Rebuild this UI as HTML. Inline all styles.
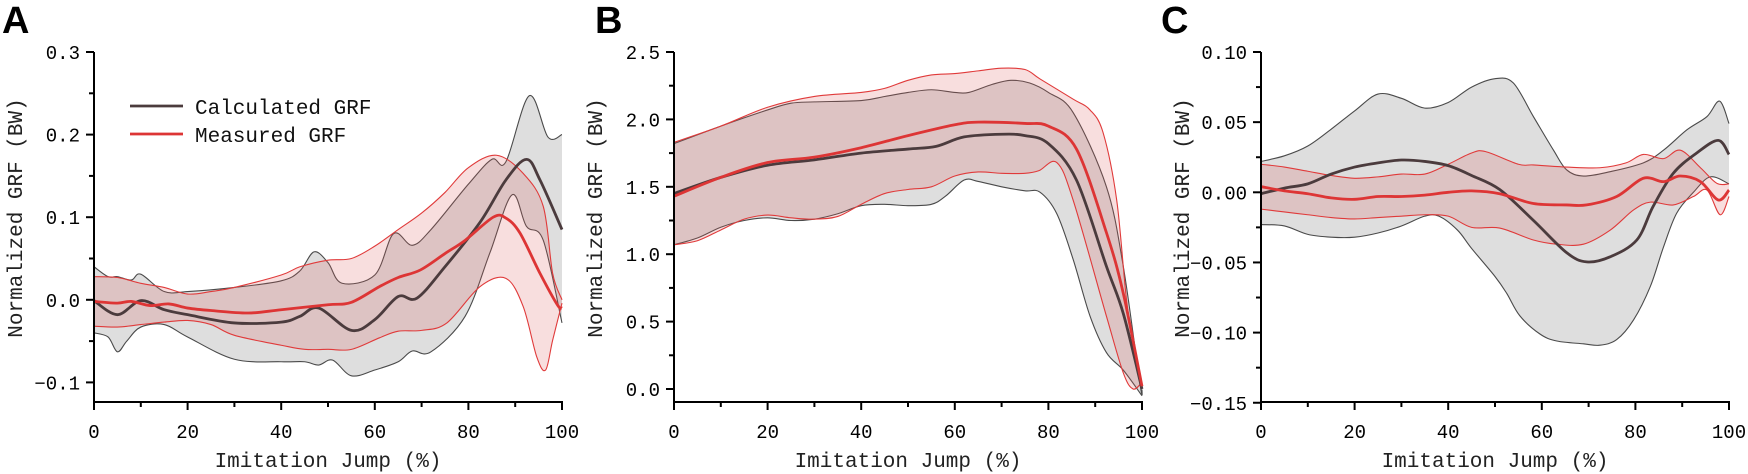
<!DOCTYPE html>
<html><head><meta charset="utf-8">
<style>
html,body{margin:0;padding:0;background:#fff;}
svg{display:block;}
text{font-family:"Liberation Mono","Noto Serif CJK SC",monospace;}
</style></head>
<body>
<svg id="fig" width="1748" height="474" viewBox="0 0 1748 474" xmlns="http://www.w3.org/2000/svg"></svg>
<script>
// ---- Panel A data: [percent, value] ----
const aCalcMean=[[0,-0.001],[5,-0.018],[10,-0.001],[15,-0.012],[20,-0.018],[30,-0.028],[40,-0.027],[44,-0.02],[48,-0.01],[55,-0.037],[60,-0.024],[65,0.004],[69,0.002],[75,0.04],[82.5,0.094],[88,0.145],[92.4,0.17],[95.3,0.145],[100,0.085]];
const aCalcUp=[[0,0.04],[3,0.028],[5,0.028],[8,0.024],[10,0.031],[15,0.01],[20,0.01],[30,0.015],[40,0.023],[44,0.035],[47,0.058],[50,0.045],[53,0.02],[60,0.03],[64,0.08],[68,0.066],[72,0.085],[80,0.14],[85,0.17],[88,0.167],[93,0.247],[97,0.197],[100,0.2]];
const aCalcLo=[[0,-0.04],[3,-0.045],[5,-0.063],[7,-0.05],[10,-0.033],[15,-0.03],[20,-0.045],[30,-0.072],[40,-0.075],[45,-0.075],[48,-0.079],[51,-0.073],[55,-0.092],[60,-0.085],[65,-0.075],[68,-0.062],[72,-0.063],[79.3,-0.02],[84.6,0.057],[89.3,0.127],[92.4,0.089],[96,0.072],[100,-0.028]];
const aMeasMean=[[0,-0.002],[5,-0.004],[8,-0.002],[12,-0.007],[16,-0.005],[20,-0.01],[25,-0.013],[33,-0.016],[40,-0.012],[50,-0.006],[55,-0.003],[61,0.016],[65,0.027],[69.7,0.036],[75,0.056],[79.3,0.072],[85.3,0.1],[88,0.099],[91,0.081],[95.3,0.032],[99,-0.006],[100,-0.01]];
const aMeasUp=[[0,0.028],[5,0.027],[10,0.02],[15,0.015],[20,0.007],[25,0.01],[30,0.015],[40,0.03],[44,0.04],[50,0.048],[55,0.05],[60,0.065],[65,0.085],[70,0.105],[75,0.13],[80,0.16],[86,0.175],[91.7,0.153],[96,0.113],[98,0.032],[100,0]];
const aMeasLo=[[0,-0.032],[5,-0.033],[10,-0.03],[15,-0.027],[20,-0.025],[25,-0.03],[30,-0.043],[40,-0.055],[45,-0.06],[50,-0.06],[55,-0.06],[61,-0.046],[65,-0.038],[70,-0.037],[75.4,-0.028],[82.5,0.016],[88,0.026],[91.7,-0.008],[94.6,-0.069],[96.5,-0.085],[98,-0.049],[100,-0.004]];
const aYTicks=[-0.1,0,0.1,0.2,0.3];
const aYLabels=["\u22120.1","0.0","0.1","0.2","0.3"];

// ---- Panel B data ----
const bCalcMean=[[0,1.45],[10,1.57],[20,1.66],[30,1.70],[40,1.75],[50,1.78],[56,1.80],[62,1.87],[70,1.89],[75,1.88],[80,1.82],[86,1.55],[92.4,0.91],[96,0.56],[100,0]];
const bCalcUp=[[0,1.82],[10,1.95],[20,2.07],[25,2.12],[30,2.13],[40,2.14],[45,2.17],[50,2.2],[55,2.22],[60,2.2],[63,2.2],[68,2.26],[72,2.29],[76,2.27],[80,2.2],[85.3,2.05],[92.4,1.5],[96,0.91],[99.6,0.03],[100,0]];
const bCalcLo=[[0,1.07],[5,1.12],[10,1.2],[15,1.25],[20,1.27],[25,1.25],[30,1.26],[35,1.3],[40,1.36],[45,1.37],[50,1.36],[55,1.37],[58,1.43],[62,1.55],[65,1.54],[70,1.5],[75,1.47],[78.2,1.46],[81.8,1.30],[85.3,0.96],[88.9,0.54],[92.4,0.27],[96,0.14],[100,-0.05]];
const bMeasMean=[[0,1.43],[10,1.57],[20,1.68],[30,1.72],[40,1.79],[50,1.88],[60,1.96],[65,1.98],[75,1.97],[80,1.95],[86,1.78],[92.4,1.16],[96,0.71],[100,0.02]];
const bMeasUp=[[0,1.83],[10,1.95],[20,2.09],[30,2.17],[40,2.2],[45,2.23],[50,2.29],[55,2.33],[60,2.34],[65,2.36],[70,2.38],[75,2.37],[78.2,2.30],[85.3,2.15],[88.9,2.07],[91.7,1.90],[94.6,1.40],[96.7,0.66],[98.9,0.16],[100,0.05]];
const bMeasLo=[[0,1.07],[5,1.1],[10,1.18],[15,1.26],[20,1.29],[25,1.27],[30,1.26],[35,1.28],[40,1.37],[45,1.45],[50,1.48],[55,1.5],[60,1.58],[65,1.61],[70,1.6],[75,1.6],[78,1.62],[81.8,1.68],[85.3,1.40],[92.4,0.54],[96,0.12],[98.1,0.0],[100,0.05]];
const bYTicks=[0,0.5,1.0,1.5,2.0,2.5];
const bYLabels=["0.0","0.5","1.0","1.5","2.0","2.5"];

// ---- Panel C data ----
const cCalcMean=[[0,-0.001],[5,0.003],[10,0.006],[15,0.013],[20,0.018],[25,0.021],[30,0.023],[35,0.022],[40,0.019],[45,0.012],[51,0.002],[58.2,-0.02],[65.3,-0.043],[69.6,-0.0496],[74.6,-0.046],[80.3,-0.034],[83.8,-0.01],[88.1,0.0136],[93.1,0.028],[97.7,0.037],[100,0.027]];
const cCalcUp=[[0,0.022],[5,0.026],[10,0.033],[15,0.045],[20,0.058],[25,0.07],[30,0.067],[35,0.06],[40,0.064],[45,0.075],[50,0.081],[53.9,0.078],[58.2,0.054],[62.5,0.03],[65.3,0.016],[68.9,0.0116],[74.6,0.0147],[81.7,0.021],[86,0.030],[91,0.0445],[95.3,0.054],[98,0.065],[100,0.049]];
const cCalcLo=[[0,-0.023],[5,-0.024],[10,-0.03],[15,-0.032],[20,-0.032],[25,-0.029],[30,-0.024],[35,-0.017],[38,-0.017],[42,-0.027],[45,-0.04],[50,-0.06],[52.5,-0.072],[55.3,-0.088],[59.6,-0.101],[63.2,-0.106],[68.9,-0.108],[72.4,-0.109],[76,-0.105],[79.6,-0.091],[83.2,-0.067],[86,-0.039],[88.8,-0.015],[92.4,0],[96,0.011],[100,0.006]];
const cMeasMean=[[0,0.004],[5,0.001],[10,-0.001],[15,-0.004],[20,-0.005],[25,-0.003],[30,-0.003],[35,-0.002],[40,0],[45,0.001],[51,-0.001],[58.2,-0.008],[65.3,-0.009],[69.6,-0.009],[76,-0.003],[81.7,0.010],[86,0.0076],[89.6,0.0116],[93.9,0.0076],[97.7,-0.0055],[100,0.0016]];
const cMeasUp=[[0,0.02],[5,0.018],[10,0.015],[15,0.012],[20,0.01],[25,0.011],[30,0.013],[35,0.013],[40,0.02],[45,0.028],[48,0.029],[55,0.02],[58.2,0.0195],[65.3,0.018],[72.4,0.0175],[78,0.021],[81.7,0.027],[86,0.024],[89.6,0.030],[93.9,0.0175],[97.4,0.0064],[100,0.006]];
const cMeasLo=[[0,-0.012],[5,-0.014],[10,-0.016],[15,-0.018],[20,-0.019],[25,-0.018],[30,-0.017],[35,-0.016],[40,-0.017],[45,-0.025],[51,-0.0255],[58.2,-0.034],[63.2,-0.037],[68.9,-0.037],[74.6,-0.027],[79.6,-0.0126],[83.2,-0.007],[88.1,-0.009],[92.4,-0.003],[95.3,0.0016],[98.1,-0.016],[100,-0.003]];
const cYTicks=[-0.15,-0.10,-0.05,0,0.05,0.10];
const cYLabels=["\u22120.15","\u22120.10","\u22120.05","0.00","0.05","0.10"];

const xTicks=[0,20,40,60,80,100];
const xLabels=["0","20","40","60","80","100"];

const NS="http://www.w3.org/2000/svg";
const svg=document.getElementById('fig');
function mk(tag,attrs,parent){const e=document.createElementNS(NS,tag);for(const k in attrs)e.setAttribute(k,attrs[k]);(parent||svg).appendChild(e);return e;}

function smoothPath(pts){
  let d='M'+pts[0][0].toFixed(2)+','+pts[0][1].toFixed(2);
  for(let i=0;i<pts.length-1;i++){
    const p0=pts[Math.max(0,i-1)],p1=pts[i],p2=pts[i+1],p3=pts[Math.min(pts.length-1,i+2)];
    const c1x=p1[0]+(p2[0]-p0[0])/6,c1y=p1[1]+(p2[1]-p0[1])/6;
    const c2x=p2[0]-(p3[0]-p1[0])/6,c2y=p2[1]-(p3[1]-p1[1])/6;
    d+=' C'+c1x.toFixed(2)+','+c1y.toFixed(2)+' '+c2x.toFixed(2)+','+c2y.toFixed(2)+' '+p2[0].toFixed(2)+','+p2[1].toFixed(2);
  }
  return d;
}

function panel(cfg){
  const g=mk('g',{});
  
  
  const x0=cfg.x0,x1=cfg.x0+468,yTop=52,yBot=402;
  const xs=v=>x0+(v/100)*(x1-x0);
  const ys=v=>cfg.yPx0+(v-cfg.v0)*(cfg.yPx1-cfg.yPx0)/(cfg.v1-cfg.v0);
  const P=arr=>arr.map(p=>[xs(p[0]),ys(p[1])]);
  function band(up,lo,fill,stroke,nm){
    const u=P(up),l=P(lo).reverse();
    const du=smoothPath(u),dl=smoothPath(l).replace(/^M/,'L');
    const b=mk('path',{d:du+' '+dl+' Z',fill:fill,stroke:'none'},g);
    
    
    const s1=mk('path',{d:du,fill:'none',stroke:stroke,'stroke-width':1.1},g);
    
    
    const s2=mk('path',{d:smoothPath(P(lo)),fill:'none',stroke:stroke,'stroke-width':1.1},g);
    
    
  }
  band(cfg.cu,cfg.cl,'rgba(200,200,200,0.6)','#4a4a4a','calculated-sd');
  band(cfg.mu,cfg.ml,'rgba(222,90,90,0.2)','#e03a3a','measured-sd');
  const lc=mk('path',{d:smoothPath(P(cfg.cm)),fill:'none',stroke:'#4b3b3d','stroke-width':2.8},g);
  
  
  const lm=mk('path',{d:smoothPath(P(cfg.mm)),fill:'none',stroke:'#dd3535','stroke-width':2.8},g);
  
  
  const ax=mk('path',{d:`M${x0},${yTop} L${x0},${yBot} L${x1+1},${yBot}`,fill:'none',stroke:'#000','stroke-width':2},g);
  
  
  xTicks.forEach((t,i)=>{
    const x=xs(t);
    mk('line',{x1:x,y1:yBot,x2:x,y2:yBot+8,stroke:'#000','stroke-width':2},g);
    if(i<xTicks.length-1){const xm=xs(t+10);mk('line',{x1:xm,y1:yBot,x2:xm,y2:yBot+5,stroke:'#000','stroke-width':2},g);}
    const tx=mk('text',{x:x,y:438,'text-anchor':'middle','font-size':19,fill:'#000'},g);
    tx.textContent=xLabels[i];
    
    
  });
  cfg.yt.forEach((t,i)=>{
    const y=ys(t);
    mk('line',{x1:x0-8,y1:y,x2:x0,y2:y,stroke:'#000','stroke-width':2},g);
    if(i<cfg.yt.length-1){const ym=ys((t+cfg.yt[i+1])/2);mk('line',{x1:x0-5,y1:ym,x2:x0,y2:ym,stroke:'#000','stroke-width':2},g);}
    const tx=mk('text',{x:x0-14,y:y+7,'text-anchor':'end','font-size':19,fill:'#000'},g);
    tx.textContent=cfg.yl[i];
    
    
  });
  const xt=mk('text',{x:(x0+x1)/2,y:467,'text-anchor':'middle','font-size':21,fill:'#222'},g);
  xt.textContent='Imitation Jump (%)';
  
  
  const yx=cfg.x0-72;
  const yt=mk('text',{x:yx,y:218,'text-anchor':'middle','font-size':21,fill:'#222',transform:`rotate(-90 ${yx} 218)`},g);
  yt.textContent='Normalized GRF (BW)';
  
  
  const pl=mk('text',{x:cfg.lx,y:33,'font-size':38,'font-weight':'bold',fill:'#000',style:'font-family:"Liberation Sans",sans-serif'},g);
  pl.textContent=cfg.label;
  
  
}

panel({name:'panel-a',label:'A',lx:2,x0:94,v0:0,v1:0.1,yPx0:299.8,yPx1:217.2,yt:aYTicks,yl:aYLabels,cm:aCalcMean,cu:aCalcUp,cl:aCalcLo,mm:aMeasMean,mu:aMeasUp,ml:aMeasLo});
panel({name:'panel-b',label:'B',lx:595,x0:674,v0:0,v1:2.5,yPx0:389,yPx1:52,yt:bYTicks,yl:bYLabels,cm:bCalcMean,cu:bCalcUp,cl:bCalcLo,mm:bMeasMean,mu:bMeasUp,ml:bMeasLo});
panel({name:'panel-c',label:'C',lx:1161,x0:1261,v0:0,v1:0.1,yPx0:192.3,yPx1:52,yt:cYTicks,yl:cYLabels,cm:cCalcMean,cu:cCalcUp,cl:cCalcLo,mm:cMeasMean,mu:cMeasUp,ml:cMeasLo});

const lg=mk('g',{});


mk('line',{x1:130,y1:106,x2:183,y2:106,stroke:'#4b3b3d','stroke-width':2.8},lg);
mk('line',{x1:130,y1:134,x2:183,y2:134,stroke:'#dd3535','stroke-width':2.8},lg);
const l1=mk('text',{x:195,y:114,'font-size':21,fill:'#111'},lg);
l1.textContent='Calculated GRF';


const l2=mk('text',{x:195,y:142,'font-size':21,fill:'#111'},lg);
l2.textContent='Measured GRF';


</script>
</body></html>
